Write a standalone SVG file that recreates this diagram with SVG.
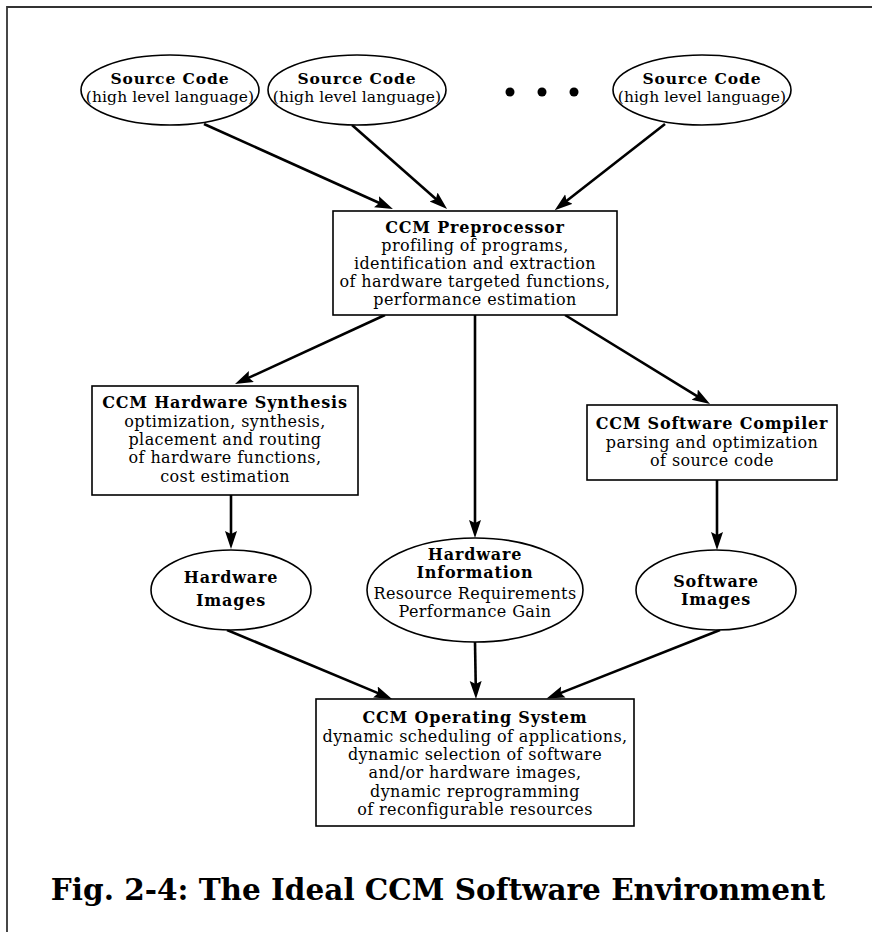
<svg xmlns="http://www.w3.org/2000/svg" width="872" height="932" viewBox="0 0 872 932">
<style>
text { font-family: "DejaVu Serif", "Liberation Serif", serif; font-size: 16px; letter-spacing: 0.4px; fill: #000; text-anchor: middle; }
.b { font-weight: bold; letter-spacing: 0.8px; }
.src { font-size: 15.5px; letter-spacing: 0.1px; }
.b.src { font-size: 15.5px; letter-spacing: 0.9px; }
.shape { fill: #fff; stroke: #000; stroke-width: 1.6; }
.edge { stroke: #000; stroke-width: 2.6; fill: none; marker-end: url(#ah); }
.cap { font-size: 29.5px; font-weight: bold; letter-spacing: 0; }
.frame { fill: none; stroke: #333; stroke-width: 1.8; }
</style>
<defs>
<marker id="ah" markerUnits="userSpaceOnUse" markerWidth="20" markerHeight="14" refX="8" refY="6" orient="auto">
<path d="M0,0 L18,6 L0,12 L3,6 z" fill="#000"/>
</marker>
</defs>

<!-- page frame -->
<path class="frame" d="M7,932 V7 H872"/>

<!-- connectors -->
<g id="connectors">
<line class="edge" x1="204" y1="124" x2="383.8" y2="205"/>
<line class="edge" x1="352" y1="125" x2="439.6" y2="202.3"/>
<line class="edge" x1="665" y1="124" x2="562.6" y2="204"/>
<line class="edge" x1="385" y1="315" x2="244.1" y2="379.9"/>
<line class="edge" x1="475" y1="315" x2="475" y2="528"/>
<line class="edge" x1="565" y1="315" x2="701.5" y2="398.8"/>
<line class="edge" x1="231" y1="495" x2="231" y2="539"/>
<line class="edge" x1="717" y1="480" x2="717" y2="540"/>
<line class="edge" x1="227" y1="630" x2="382.8" y2="695.1"/>
<line class="edge" x1="475" y1="642" x2="475.8" y2="689"/>
<line class="edge" x1="720" y1="630" x2="555.9" y2="694.9"/>
</g>

<!-- source programs -->
<g id="src1">
<ellipse class="shape" cx="170" cy="90" rx="89" ry="35"/>
<text class="b src" x="170" y="84">Source Code</text>
<text class="src" x="170" y="102">(high level language)</text>
</g>
<g id="src2">
<ellipse class="shape" cx="357" cy="90" rx="89" ry="35"/>
<text class="b src" x="357" y="84">Source Code</text>
<text class="src" x="357" y="102">(high level language)</text>
</g>
<g id="ellipsis">
<circle cx="510" cy="92" r="4.5"/>
<circle cx="542" cy="92" r="4.5"/>
<circle cx="574" cy="92" r="4.5"/>
</g>
<g id="src3">
<ellipse class="shape" cx="702" cy="90" rx="89" ry="35"/>
<text class="b src" x="702" y="84">Source Code</text>
<text class="src" x="702" y="102">(high level language)</text>
</g>

<!-- preprocessor -->
<g id="preprocessor">
<rect class="shape" x="333" y="211" width="284" height="104"/>
<text class="b" x="475" y="233">CCM Preprocessor</text>
<text x="475" y="251">profiling of programs,</text>
<text x="475" y="269">identification and extraction</text>
<text x="475" y="287">of hardware targeted functions,</text>
<text x="475" y="305">performance estimation</text>
</g>

<!-- hardware synthesis -->
<g id="hw-synthesis">
<rect class="shape" x="92" y="386" width="266" height="109"/>
<text class="b" x="225" y="408">CCM Hardware Synthesis</text>
<text x="225" y="427">optimization, synthesis,</text>
<text x="225" y="445">placement and routing</text>
<text x="225" y="463">of hardware functions,</text>
<text x="225" y="482">cost estimation</text>
</g>

<!-- software compiler -->
<g id="sw-compiler">
<rect class="shape" x="587" y="405" width="250" height="75"/>
<text class="b" x="712" y="429">CCM Software Compiler</text>
<text x="712" y="448">parsing and optimization</text>
<text x="712" y="466">of source code</text>
</g>

<!-- hardware images -->
<g id="hw-images">
<ellipse class="shape" cx="231" cy="590" rx="80" ry="40"/>
<text class="b" x="231" y="583">Hardware</text>
<text class="b" x="231" y="606">Images</text>
</g>

<!-- hardware information -->
<g id="hw-info">
<ellipse class="shape" cx="475" cy="590" rx="108" ry="52"/>
<text class="b" x="475" y="560">Hardware</text>
<text class="b" x="475" y="578">Information</text>
<text x="475" y="599">Resource Requirements</text>
<text x="475" y="617">Performance Gain</text>
</g>

<!-- software images -->
<g id="sw-images">
<ellipse class="shape" cx="716" cy="590" rx="80" ry="40"/>
<text class="b" x="716" y="587">Software</text>
<text class="b" x="716" y="605">Images</text>
</g>

<!-- operating system -->
<g id="os">
<rect class="shape" x="316" y="699" width="318" height="127"/>
<text class="b" x="475" y="723">CCM Operating System</text>
<text x="475" y="742">dynamic scheduling of applications,</text>
<text x="475" y="760">dynamic selection of software</text>
<text x="475" y="778">and/or hardware images,</text>
<text x="475" y="797">dynamic reprogramming</text>
<text x="475" y="815">of reconfigurable resources</text>
</g>

<!-- caption -->
<text class="cap" x="438" y="900">Fig. 2-4: The Ideal CCM Software Environment</text>
</svg>
